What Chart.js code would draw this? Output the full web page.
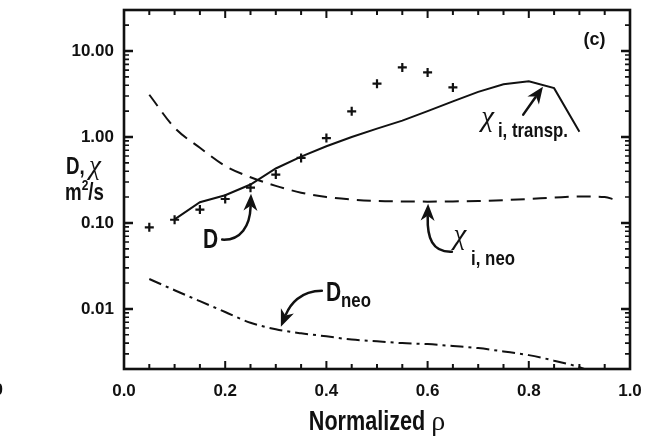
<!DOCTYPE html>
<html>
<head>
<meta charset="utf-8">
<script src="https://cdn.jsdelivr.net/npm/chart.js@4.4.0/dist/chart.umd.min.js"></script>
<style>
html, body { margin: 0; padding: 0; background: #fff; }
</style>
</head>
<body>
<canvas id="chartContainer" width="653" height="440"></canvas>
<script>
// D measured (crosses)
var rhoD = [0.05, 0.10, 0.15, 0.20, 0.25, 0.30, 0.35, 0.40, 0.45, 0.50, 0.55, 0.60, 0.65];
var valD = [0.089, 0.109, 0.143, 0.19, 0.257, 0.365, 0.57, 0.97, 1.99, 4.17, 6.45, 5.64, 3.77];

// chi_i transport (solid)
var rhoChiTr = [0.10, 0.15, 0.20, 0.25, 0.30, 0.35, 0.40, 0.45, 0.50, 0.55, 0.60, 0.65, 0.70, 0.75, 0.80, 0.85, 0.90];
var valChiTr = [0.11, 0.174, 0.21, 0.28, 0.43, 0.59, 0.78, 1.0, 1.25, 1.55, 2.0, 2.6, 3.35, 4.1, 4.45, 3.7, 1.15];

// chi_i neoclassical (dashed)
var rhoChiNeo = [0.05, 0.10, 0.15, 0.20, 0.25, 0.30, 0.35, 0.40, 0.45, 0.50, 0.55, 0.60, 0.65, 0.70, 0.75, 0.80, 0.85, 0.90, 0.95, 0.97];
var valChiNeo = [3.1, 1.28, 0.75, 0.46, 0.34, 0.27, 0.225, 0.2, 0.187, 0.18, 0.178, 0.177, 0.178, 0.18, 0.184, 0.19, 0.197, 0.203, 0.2, 0.187];

// D neoclassical (dash-dot)
var rhoDNeo = [0.05, 0.10, 0.15, 0.20, 0.25, 0.30, 0.35, 0.40, 0.45, 0.50, 0.55, 0.60, 0.65, 0.70, 0.75, 0.80, 0.85, 0.90, 0.95];
var valDNeo = [0.0223, 0.0165, 0.0123, 0.0092, 0.0069, 0.0058, 0.0052, 0.0048, 0.0044, 0.0042, 0.004, 0.0039, 0.0037, 0.0035, 0.0032, 0.0029, 0.0025, 0.0021, 0.0016];

var xTicks = [0, 0.2, 0.4, 0.6, 0.8, 1.0];
var yTicks = [0.01, 0.1, 1, 10];

var FONT = "'Liberation Sans', Arial, sans-serif";
var SERIF = "'Liberation Serif', 'DejaVu Serif', serif";
var INK = '#111';

function pts(xs, ys) {
    var out = [];
    for (var i = 0; i < xs.length; i++) {
        out.push({x: xs[i], y: ys[i]});
    }
    return out;
}

function dataPt(chart, x, y) {
    return [chart.scales.x.getPixelForValue(x), chart.scales.y.getPixelForValue(y)];
}

// text with horizontal squeeze (condensed look); style: 'sans', 'chi' or 'rho'
function label(ctx, s, p, size, sx, style) {
    ctx.save();
    ctx.translate(p[0], p[1]);
    ctx.scale(sx, 1);
    if (style == 'chi') ctx.font = 'italic ' + size + 'px ' + SERIF;
    else if (style == 'rho') ctx.font = size + 'px ' + SERIF;
    else ctx.font = 'bold ' + size + 'px ' + FONT;
    ctx.textAlign = 'left';
    ctx.textBaseline = 'alphabetic';
    ctx.fillText(s, 0, 0);
    var w = ctx.measureText(s).width * sx;
    ctx.restore();
    return w;
}

function arrow(ctx, p0, c1, c2, tip) {
    var dx = tip[0] - c2[0], dy = tip[1] - c2[1];
    var L = Math.sqrt(dx * dx + dy * dy);
    var ux = dx / L, uy = dy / L;
    var hl = 17, hw = 7;
    var bx = tip[0] - ux * hl, by = tip[1] - uy * hl;
    var ex = tip[0] - ux * (hl - 4), ey = tip[1] - uy * (hl - 4);
    ctx.beginPath();
    ctx.moveTo(p0[0], p0[1]);
    ctx.bezierCurveTo(c1[0], c1[1], c2[0], c2[1], ex, ey);
    ctx.lineWidth = 2.5;
    ctx.stroke();
    ctx.beginPath();
    ctx.moveTo(tip[0], tip[1]);
    ctx.lineTo(bx - uy * hw, by + ux * hw);
    ctx.lineTo(tip[0] - ux * (hl - 5), tip[1] - uy * (hl - 5));
    ctx.lineTo(bx + uy * hw, by - ux * hw);
    ctx.closePath();
    ctx.fill();
}

// frame + inward ticks on all four sides
var framePlugin = {
    id: 'frame',
    afterDraw: function(chart) {
        var ctx = chart.ctx, a = chart.chartArea;
        var xs = chart.scales.x, ys = chart.scales.y;
        ctx.save();
        ctx.strokeStyle = INK;
        ctx.lineWidth = 2;
        for (var i = 0; i <= 20; i++) {
            var px = xs.getPixelForValue(i * 0.05);
            var len = (i % 4 == 0) ? 8 : 5;
            ctx.beginPath();
            ctx.moveTo(px, a.bottom); ctx.lineTo(px, a.bottom - len);
            ctx.moveTo(px, a.top); ctx.lineTo(px, a.top + len);
            ctx.stroke();
        }
        for (var e = -3; e <= 1; e++) {
            for (var k = 1; k <= 9; k++) {
                var v = k * Math.pow(10, e);
                if (v < ys.min * 0.999 || v > ys.max * 1.001) continue;
                var py = ys.getPixelForValue(v);
                var ln = (k == 1) ? 9 : 5;
                ctx.lineWidth = (k == 1) ? 2.5 : 1.6;
                ctx.beginPath();
                ctx.moveTo(a.left, py); ctx.lineTo(a.left + ln, py);
                ctx.moveTo(a.right, py); ctx.lineTo(a.right - ln, py);
                ctx.stroke();
            }
        }
        ctx.lineWidth = 2.6;
        ctx.strokeRect(a.left, a.top, a.right - a.left, a.bottom - a.top);
        ctx.restore();
    }
};

// labels, arrows and axis titles
var notesPlugin = {
    id: 'notes',
    afterDraw: function(chart) {
        var ctx = chart.ctx, a = chart.chartArea;
        ctx.save();
        ctx.fillStyle = INK;
        ctx.strokeStyle = INK;
        ctx.lineCap = 'round';

        label(ctx, '(c)', dataPt(chart, 0.908, 11.8), 18, 1, 'sans');

        // chi_i, transp.
        label(ctx, '\u03C7', dataPt(chart, 0.706, 1.35), 29, 1, 'chi');
        label(ctx, 'i, transp.', dataPt(chart, 0.739, 1.01), 21, 0.8, 'sans');
        arrow(ctx, dataPt(chart, 0.789, 1.82), dataPt(chart, 0.789, 1.82),
              dataPt(chart, 0.789, 1.82), dataPt(chart, 0.828, 3.85));

        // chi_i, neo
        label(ctx, '\u03C7', dataPt(chart, 0.651, 0.0574), 29, 1, 'chi');
        label(ctx, 'i, neo', dataPt(chart, 0.686, 0.0327), 21, 0.8, 'sans');
        arrow(ctx, dataPt(chart, 0.648, 0.0463), dataPt(chart, 0.609, 0.0452),
              dataPt(chart, 0.599, 0.0675), dataPt(chart, 0.601, 0.1675));

        // D
        label(ctx, 'D', dataPt(chart, 0.156, 0.0516), 28, 0.75, 'sans');
        arrow(ctx, dataPt(chart, 0.194, 0.064), dataPt(chart, 0.231, 0.0622),
              dataPt(chart, 0.249, 0.093), dataPt(chart, 0.251, 0.219));

        // D_neo
        label(ctx, 'D', dataPt(chart, 0.399, 0.0122), 28, 0.75, 'sans');
        label(ctx, 'neo', dataPt(chart, 0.429, 0.0106), 21, 0.8, 'sans');
        arrow(ctx, dataPt(chart, 0.391, 0.0163), dataPt(chart, 0.348, 0.0163),
              dataPt(chart, 0.328, 0.0112), dataPt(chart, 0.310, 0.00622));

        // y axis title
        var x0 = a.left - 58;
        var dw = label(ctx, 'D, ', [x0, a.top + 164], 24, 0.78, 'sans');
        label(ctx, '\u03C7', [x0 + dw - 1, a.top + 164], 27, 1, 'chi');
        var mw = label(ctx, 'm', [x0 - 1, a.top + 190], 24, 0.78, 'sans');
        var sw = label(ctx, '2', [x0 - 1 + mw, a.top + 180], 15, 0.8, 'sans');
        label(ctx, '/s', [x0 - 1 + mw + sw, a.top + 190], 24, 0.78, 'sans');

        // x axis title
        ctx.font = 'bold 27px ' + FONT;
        var tw = ctx.measureText('Normalized ').width * 0.8;
        ctx.font = '28px ' + SERIF;
        var rw = ctx.measureText('\u03C1').width;
        var cx = (a.left + a.right) / 2 - (tw + rw) / 2;
        label(ctx, 'Normalized ', [cx, a.bottom + 61], 27, 0.8, 'sans');
        label(ctx, '\u03C1', [cx + tw, a.bottom + 61], 28, 1, 'rho');

        // clipped label of the neighbouring panel
        ctx.font = 'bold 17px ' + FONT;
        ctx.textAlign = 'right';
        ctx.textBaseline = 'middle';
        ctx.fillText('1.0', 3, a.bottom + 21);
        ctx.restore();
    }
};

var tickFont = {family: FONT, size: 17, weight: 'bold'};

function noEdgePadding(scale) {
    scale.paddingTop = 0;
    scale.paddingBottom = 0;
    scale.paddingLeft = 0;
    scale.paddingRight = 0;
}

new Chart('chartContainer', {
    type: 'scatter',
    data: {
        datasets: [
            {
                label: 'D',
                data: pts(rhoD, valD),
                showLine: false,
                pointStyle: 'cross',
                pointRadius: 4.5,
                pointBorderWidth: 2.2,
                borderColor: INK,
                backgroundColor: INK
            },
            {
                label: 'chi transp',
                data: pts(rhoChiTr, valChiTr),
                showLine: true,
                pointRadius: 0,
                borderWidth: 2,
                borderColor: INK,
                tension: 0
            },
            {
                label: 'chi neo',
                data: pts(rhoChiNeo, valChiNeo),
                showLine: true,
                pointRadius: 0,
                borderWidth: 2,
                borderColor: INK,
                borderDash: [14, 8],
                cubicInterpolationMode: 'monotone'
            },
            {
                label: 'D neo',
                data: pts(rhoDNeo, valDNeo),
                showLine: true,
                pointRadius: 0,
                borderWidth: 2,
                borderColor: INK,
                borderDash: [13, 5, 3, 5],
                cubicInterpolationMode: 'monotone'
            }
        ]
    },
    options: {
        responsive: false,
        animation: false,
        layout: {padding: {left: 0, top: 10, right: 23, bottom: 0}},
        plugins: {
            legend: {display: false},
            tooltip: {enabled: false}
        },
        scales: {
            x: {
                type: 'linear',
                min: 0,
                max: 1,
                afterBuildTicks: function(scale) {
                    scale.ticks = xTicks.map(function(v) { return {value: v}; });
                },
                afterFit: function(scale) { scale.height = 71; noEdgePadding(scale); },
                ticks: {
                    callback: function(v) { return v.toFixed(1); },
                    font: tickFont,
                    color: INK,
                    padding: 12,
                    maxRotation: 0,
                    autoSkip: false
                },
                grid: {display: false, drawTicks: false},
                border: {display: false}
            },
            y: {
                type: 'logarithmic',
                min: 0.002,
                max: 30,
                afterBuildTicks: function(scale) {
                    scale.ticks = yTicks.map(function(v) { return {value: v}; });
                },
                afterFit: function(scale) { scale.width = 124; noEdgePadding(scale); },
                ticks: {
                    callback: function(v) { return Number(v).toFixed(2); },
                    font: tickFont,
                    color: INK,
                    padding: 10,
                    autoSkip: false
                },
                grid: {display: false, drawTicks: false},
                border: {display: false}
            }
        }
    },
    plugins: [framePlugin, notesPlugin]
});
</script>
</body>
</html>
